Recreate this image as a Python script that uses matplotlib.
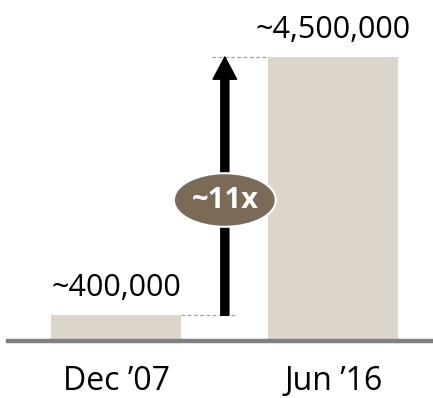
import matplotlib
matplotlib.use("Agg")
import matplotlib.pyplot as plt
from matplotlib.patches import Ellipse, FancyArrowPatch

plt.rcParams['font.family'] = ['Open Sans', 'DejaVu Sans']

# データ
periods = ["Dec \u201907", "Jun \u201916"]
counts = [400000, 4500000]
count_labels = ["~400,000", "~4,500,000"]
growth_label = "~11x"

bar_color = "#dcd5cc"
badge_color = "#7b6a56"

fig = plt.figure(figsize=(4.33, 3.98), dpi=100)
# 軸の位置（左端にベースラインが少し空く）
ax = fig.add_axes([8 / 433, 57.5 / 398, 425 / 433, 340.5 / 398])

x = [0, 1]
bars = ax.bar(x, counts, width=0.6, color=bar_color, zorder=2)

ax.set_xlim(-0.50, 1.46)
ax.set_ylim(0, 4500000 * 340.5 / 283.5)

# 値ラベル
for xi, v, lab in zip(x, counts, count_labels):
    ax.annotate(lab, (xi, v), xytext=(0, 14), textcoords="offset points",
                ha="center", va="baseline", fontsize=22, color="black")

# 点線（バーの上端から矢印まで）
mid = 0.5
ax.plot([0.3, 0.555], [counts[0], counts[0]], ls=(0, (3, 2)), lw=0.9,
        color="#a0a0a0", zorder=1)
ax.plot([0.44, 0.7], [counts[1], counts[1]], ls=(0, (3, 2)), lw=0.9,
        color="#a0a0a0", zorder=1)

# 矢印
arrow = FancyArrowPatch((mid, counts[0]), (mid, counts[1]),
                        arrowstyle="simple,head_length=16,head_width=17,tail_width=5.8",
                        mutation_scale=1, color="black", shrinkA=0, shrinkB=0,
                        zorder=3)
ax.add_patch(arrow)

# 倍率バッジ
yc = 2230000
badge = Ellipse((mid, yc), width=0.47, height=850000, facecolor=badge_color,
                edgecolor="white", lw=1.5, zorder=4)
ax.add_patch(badge)
ax.text(mid, yc, growth_label, ha="center", va="center", fontsize=21,
        fontweight="bold", color="white", zorder=5)

# 軸の見た目
for s in ["top", "right", "left"]:
    ax.spines[s].set_visible(False)
ax.spines["bottom"].set_color("#808080")
ax.spines["bottom"].set_linewidth(3.2)
ax.spines["bottom"].set_zorder(3)
ax.set_yticks([])
ax.set_xticks(x)
ax.set_xticklabels(periods, fontsize=23)
ax.tick_params(axis="x", length=0, pad=18)

fig.savefig("out.png", dpi=100)
